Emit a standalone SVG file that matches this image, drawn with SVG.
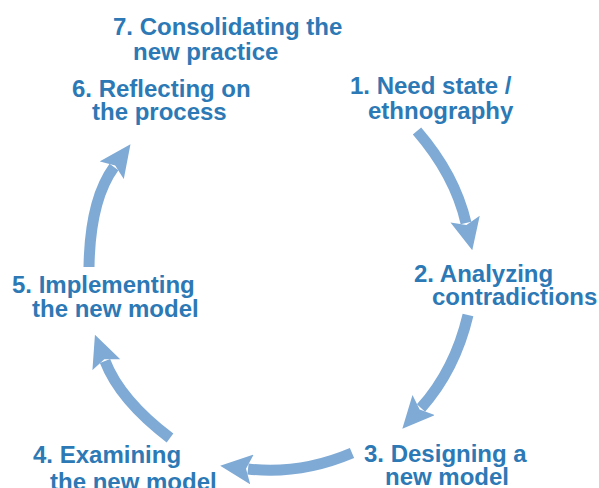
<svg xmlns="http://www.w3.org/2000/svg" width="599" height="488" viewBox="0 0 599 488">
<style>
.lbl{font-family:"Liberation Sans",Arial,sans-serif;font-weight:bold;font-size:24px;fill:#2c79b5}
.arr{fill:none;stroke:#7eaad5;stroke-width:11;stroke-linecap:butt;marker-end:url(#head)}
</style>
<defs>
<marker id="head" markerUnits="userSpaceOnUse" markerWidth="32" markerHeight="30" refX="4" refY="15" orient="auto" viewBox="0 0 32 30">
<path d="M0,0 L32,15 L0,30 L6,15 z" fill="#7eaad5"/>
</marker>
</defs>
<rect width="599" height="488" fill="#ffffff"/>
<g id="connectors">
<path class="arr" d="M417,131 Q455,175 466,223"/>
<path class="arr" d="M468,315 Q455,370 421,408"/>
<path class="arr" d="M352,453 Q300,475 248,469"/>
<path class="arr" d="M170,438 Q120,400 105,361"/>
<path class="arr" d="M89,267 Q90,200 114,167"/>
</g>
<g id="n7"><text class="lbl" x="113" y="35">7. Consolidating the</text><text class="lbl" x="133" y="60">new practice</text></g>
<g id="n6"><text class="lbl" x="72" y="97">6. Reflecting on</text><text class="lbl" x="92" y="120">the process</text></g>
<g id="n1"><text class="lbl" x="350" y="94">1. Need state /</text><text class="lbl" x="368" y="119">ethnography</text></g>
<g id="n2"><text class="lbl" x="414" y="282">2. Analyzing</text><text class="lbl" x="432" y="305">contradictions</text></g>
<g id="n3"><text class="lbl" x="364" y="462">3. Designing a</text><text class="lbl" x="385" y="485">new model</text></g>
<g id="n4"><text class="lbl" x="33" y="463">4. Examining</text><text class="lbl" x="50" y="490">the new model</text></g>
<g id="n5"><text class="lbl" x="12" y="293">5. Implementing</text><text class="lbl" x="32" y="317">the new model</text></g>
</svg>
